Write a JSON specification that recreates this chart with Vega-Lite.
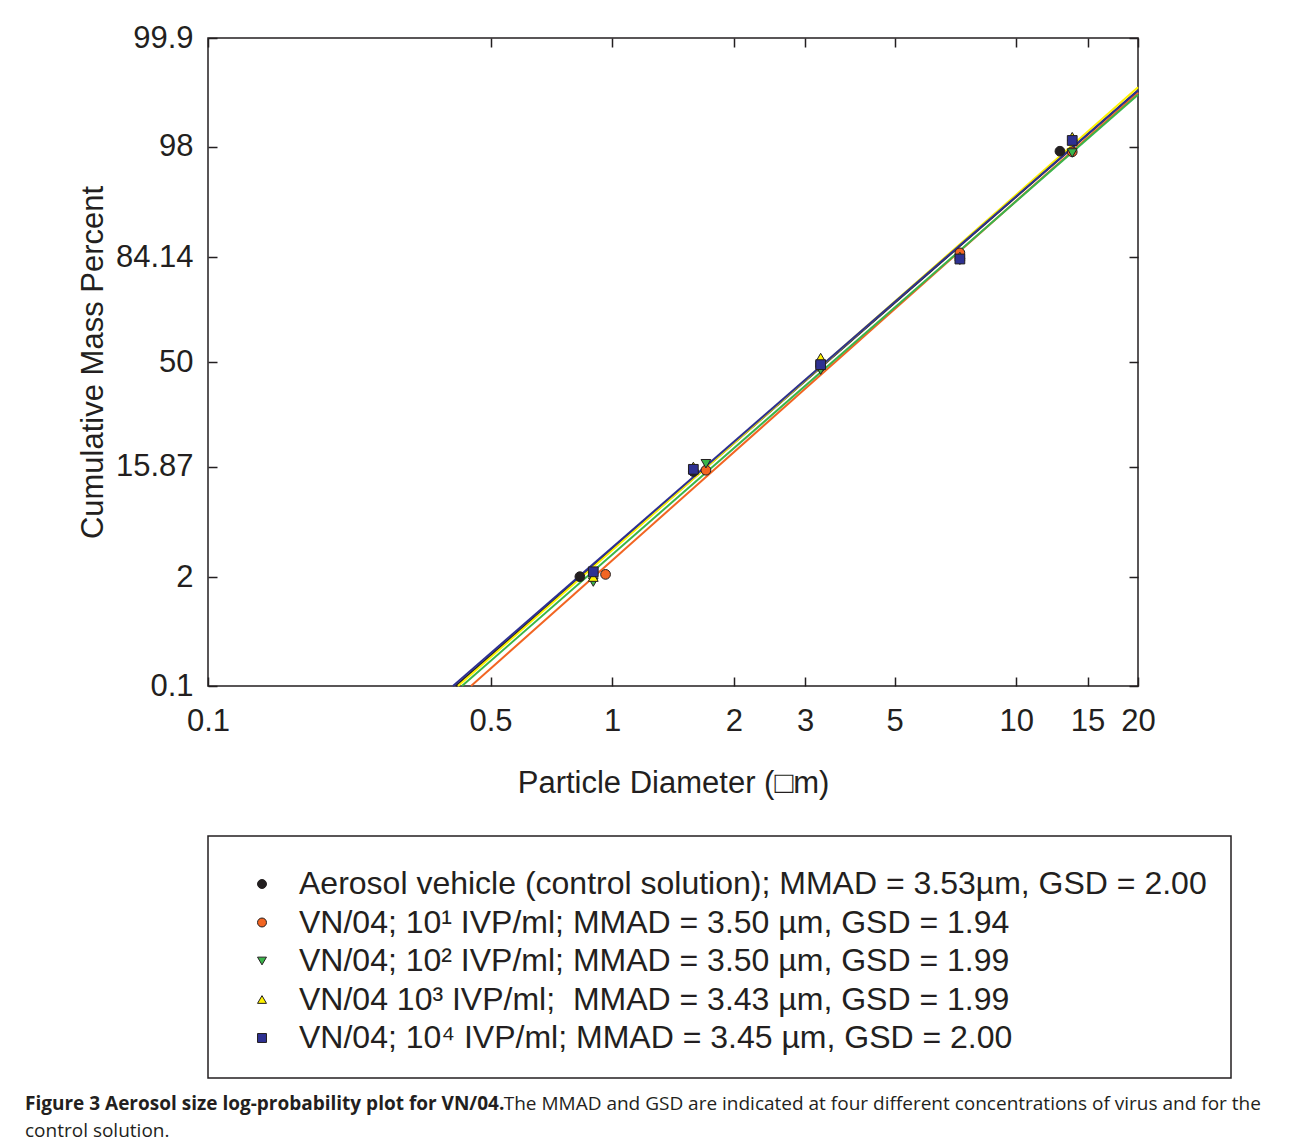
{
  "$schema": "https://vega.github.io/schema/vega-lite/v6.json",
  "width": 930,
  "height": 648,
  "autosize": {"type": "none"},
  "padding": {"left": 208, "top": 38, "right": 155, "bottom": 459},
  "background": "white",
  "title": {
    "text": "Figure 3 Aerosol size log-probability plot for VN/04.",
    "subtitle": [
      "\u200b\u00a0\u00a0\u00a0\u00a0\u00a0\u00a0\u00a0\u00a0\u00a0\u00a0\u00a0\u00a0\u00a0\u00a0\u00a0\u00a0\u00a0\u00a0\u00a0\u00a0\u00a0\u00a0\u00a0\u00a0\u00a0\u00a0\u00a0\u00a0\u00a0\u00a0\u00a0\u00a0\u00a0\u00a0\u00a0\u00a0\u00a0\u00a0\u00a0\u00a0\u00a0\u00a0\u00a0\u00a0\u00a0\u00a0\u00a0\u00a0\u00a0\u00a0\u00a0\u00a0\u00a0\u00a0\u00a0\u00a0\u00a0\u00a0\u00a0\u00a0\u00a0\u00a0\u00a0\u00a0\u00a0\u00a0\u00a0\u00a0\u00a0\u00a0\u00a0\u00a0\u00a0\u00a0\u00a0\u00a0\u00a0\u00a0\u00a0\u00a0\u00a0\u00a0\u00a0\u00a0\u00a0\u00a0\u00a0\u00a0\u00a0\u00a0\u00a0\u00a0\u00a0\u00a0\u00a0\u00a0\u00a0The MMAD and GSD are indicated at four different concentrations of virus and for the",
      "control solution."
    ],
    "orient": "bottom",
    "anchor": "start",
    "frame": "group",
    "dx": -183,
    "offset": 16,
    "font": "Open Sans",
    "fontSize": 19,
    "fontWeight": "bold",
    "color": "#231f20",
    "subtitleFont": "Open Sans",
    "subtitleFontSize": 19,
    "subtitleColor": "#231f20",
    "subtitleLineHeight": 27,
    "subtitlePadding": -19
  },
  "config": {
    "font": "Liberation Sans",
    "view": {"stroke": "#231f20", "strokeWidth": 1.5},
    "axis": {
      "domain": false,
      "grid": false,
      "tickColor": "#231f20",
      "tickWidth": 1.5,
      "tickSize": -9,
      "labelFont": "Liberation Sans",
      "labelFontSize": 31,
      "labelColor": "#231f20",
      "titleFont": "Liberation Sans",
      "titleFontSize": 31,
      "titleFontWeight": "normal",
      "titleColor": "#231f20",
      "labelFlush": false,
      "labelOverlap": false
    },
    "legend": {"strokeWidth": 1.5}
  },
  "data": {
    "values": [
      {"kind": "line", "series": "Aerosol vehicle (control solution); MMAD = 3.53µm, GSD = 2.00", "d": 0.410, "p": 0.1},
      {"kind": "line", "series": "Aerosol vehicle (control solution); MMAD = 3.53µm, GSD = 2.00", "d": 20, "p": 99.52},
      {"kind": "line", "series": "VN/04; 10¹ IVP/ml; MMAD = 3.50 µm, GSD = 1.94", "d": 0.4474, "p": 0.1},
      {"kind": "line", "series": "VN/04; 10¹ IVP/ml; MMAD = 3.50 µm, GSD = 1.94", "d": 20, "p": 99.49},
      {"kind": "line", "series": "VN/04; 10² IVP/ml; MMAD = 3.50 µm, GSD = 1.99", "d": 0.4249, "p": 0.1},
      {"kind": "line", "series": "VN/04; 10² IVP/ml; MMAD = 3.50 µm, GSD = 1.99", "d": 20, "p": 99.46},
      {"kind": "line", "series": "VN/04 10³ IVP/ml;\u00a0 MMAD = 3.43 µm, GSD = 1.99", "d": 0.4155, "p": 0.1},
      {"kind": "line", "series": "VN/04 10³ IVP/ml;\u00a0 MMAD = 3.43 µm, GSD = 1.99", "d": 20, "p": 99.56},
      {"kind": "line", "series": "VN/04; 10⁴ IVP/ml; MMAD = 3.45 µm, GSD = 2.00", "d": 0.4037, "p": 0.1},
      {"kind": "line", "series": "VN/04; 10⁴ IVP/ml; MMAD = 3.45 µm, GSD = 2.00", "d": 20, "p": 99.52},

      {"kind": "point", "series": "Aerosol vehicle (control solution); MMAD = 3.53µm, GSD = 2.00", "d": 0.832, "p": 2.03},
      {"kind": "point", "series": "Aerosol vehicle (control solution); MMAD = 3.53µm, GSD = 2.00", "d": 1.588, "p": 14.8},
      {"kind": "point", "series": "Aerosol vehicle (control solution); MMAD = 3.53µm, GSD = 2.00", "d": 3.28, "p": 49.4},
      {"kind": "point", "series": "Aerosol vehicle (control solution); MMAD = 3.53µm, GSD = 2.00", "d": 7.25, "p": 83.8},
      {"kind": "point", "series": "Aerosol vehicle (control solution); MMAD = 3.53µm, GSD = 2.00", "d": 12.82, "p": 97.78},

      {"kind": "point", "series": "VN/04; 10¹ IVP/ml; MMAD = 3.50 µm, GSD = 1.94", "d": 0.963, "p": 2.14},
      {"kind": "point", "series": "VN/04; 10¹ IVP/ml; MMAD = 3.50 µm, GSD = 1.94", "d": 1.706, "p": 15.1},
      {"kind": "point", "series": "VN/04; 10¹ IVP/ml; MMAD = 3.50 µm, GSD = 1.94", "d": 3.28, "p": 48.3},
      {"kind": "point", "series": "VN/04; 10¹ IVP/ml; MMAD = 3.50 µm, GSD = 1.94", "d": 7.25, "p": 85.1},
      {"kind": "point", "series": "VN/04; 10¹ IVP/ml; MMAD = 3.50 µm, GSD = 1.94", "d": 13.75, "p": 97.75},

      {"kind": "point", "series": "VN/04; 10² IVP/ml; MMAD = 3.50 µm, GSD = 1.99", "d": 0.898, "p": 1.79},
      {"kind": "point", "series": "VN/04; 10² IVP/ml; MMAD = 3.50 µm, GSD = 1.99", "d": 1.706, "p": 16.6},
      {"kind": "point", "series": "VN/04; 10² IVP/ml; MMAD = 3.50 µm, GSD = 1.99", "d": 3.28, "p": 46.9},
      {"kind": "point", "series": "VN/04; 10² IVP/ml; MMAD = 3.50 µm, GSD = 1.99", "d": 7.25, "p": 83.4},
      {"kind": "point", "series": "VN/04; 10² IVP/ml; MMAD = 3.50 µm, GSD = 1.99", "d": 13.75, "p": 97.69},

      {"kind": "point", "series": "VN/04 10³ IVP/ml;\u00a0 MMAD = 3.43 µm, GSD = 1.99", "d": 0.898, "p": 2.01},
      {"kind": "point", "series": "VN/04 10³ IVP/ml;\u00a0 MMAD = 3.43 µm, GSD = 1.99", "d": 1.588, "p": 15.96},
      {"kind": "point", "series": "VN/04 10³ IVP/ml;\u00a0 MMAD = 3.43 µm, GSD = 1.99", "d": 3.28, "p": 51.7},
      {"kind": "point", "series": "VN/04 10³ IVP/ml;\u00a0 MMAD = 3.43 µm, GSD = 1.99", "d": 7.25, "p": 84.3},
      {"kind": "point", "series": "VN/04 10³ IVP/ml;\u00a0 MMAD = 3.43 µm, GSD = 1.99", "d": 13.75, "p": 98.42},

      {"kind": "point", "series": "VN/04; 10⁴ IVP/ml; MMAD = 3.45 µm, GSD = 2.00", "d": 0.898, "p": 2.27},
      {"kind": "point", "series": "VN/04; 10⁴ IVP/ml; MMAD = 3.45 µm, GSD = 2.00", "d": 1.588, "p": 15.3},
      {"kind": "point", "series": "VN/04; 10⁴ IVP/ml; MMAD = 3.45 µm, GSD = 2.00", "d": 3.28, "p": 49.0},
      {"kind": "point", "series": "VN/04; 10⁴ IVP/ml; MMAD = 3.45 µm, GSD = 2.00", "d": 7.25, "p": 83.7},
      {"kind": "point", "series": "VN/04; 10⁴ IVP/ml; MMAD = 3.45 µm, GSD = 2.00", "d": 13.75, "p": 98.27}
    ]
  },
  "transform": [{"calculate": "quantileNormal(datum.p / 100)", "as": "z"}],
  "layer": [
    {
      "transform": [{"filter": "datum.kind === 'line'"}],
      "mark": {"type": "line", "strokeWidth": 2},
      "encoding": {
        "x": {
          "field": "d", "type": "quantitative",
          "scale": {"type": "log", "domain": [0.1, 20], "nice": false},
          "axis": {
            "orient": "bottom",
            "values": [0.1, 0.5, 1, 2, 3, 5, 10, 15, 20],
            "format": "~g",
            "labelPadding": 29,
            "title": "Particle Diameter (□m)",
            "titlePadding": 32
          }
        },
        "y": {
          "field": "z", "type": "quantitative",
          "scale": {"domain": [-3.090232, 3.090232], "nice": false, "zero": false},
          "axis": {
            "orient": "left",
            "values": [-3.090232, -2.053749, -0.99981, 0, 1.000227, 2.053749, 3.090232],
            "labelExpr": "'' + round(cumulativeNormal(datum.value) * 10000) / 100",
            "labelPadding": 24,
            "title": "Cumulative Mass Percent",
            "titlePadding": 6
          }
        },
        "stroke": {
          "field": "series", "type": "nominal",
          "scale": {
            "domain": [
              "VN/04; 10¹ IVP/ml; MMAD = 3.50 µm, GSD = 1.94",
              "VN/04; 10² IVP/ml; MMAD = 3.50 µm, GSD = 1.99",
              "Aerosol vehicle (control solution); MMAD = 3.53µm, GSD = 2.00",
              "VN/04 10³ IVP/ml;\u00a0 MMAD = 3.43 µm, GSD = 1.99",
              "VN/04; 10⁴ IVP/ml; MMAD = 3.45 µm, GSD = 2.00"
            ],
            "range": ["#f26522", "#39b54a", "#231f20", "#fff200", "#2e3192"]
          },
          "legend": null
        }
      }
    },
    {
      "transform": [{"filter": "datum.kind === 'point'"}],
      "mark": {"type": "point", "filled": true, "opacity": 1, "size": 95, "stroke": "#231f20", "strokeWidth": 1},
      "encoding": {
        "x": {
          "field": "d", "type": "quantitative",
          "scale": {"type": "log", "domain": [0.1, 20], "nice": false},
          "axis": {"orient": "top", "values": [0.1, 0.5, 1, 2, 3, 5, 10, 15, 20], "labels": false, "title": null}
        },
        "y": {
          "field": "z", "type": "quantitative",
          "scale": {"domain": [-3.090232, 3.090232], "nice": false, "zero": false},
          "axis": {"orient": "right", "values": [-3.090232, -2.053749, -0.99981, 0, 1.000227, 2.053749, 3.090232], "labels": false, "title": null}
        },
        "color": {
          "field": "series", "type": "nominal",
          "scale": {
            "domain": [
              "Aerosol vehicle (control solution); MMAD = 3.53µm, GSD = 2.00",
              "VN/04; 10¹ IVP/ml; MMAD = 3.50 µm, GSD = 1.94",
              "VN/04; 10² IVP/ml; MMAD = 3.50 µm, GSD = 1.99",
              "VN/04 10³ IVP/ml;\u00a0 MMAD = 3.43 µm, GSD = 1.99",
              "VN/04; 10⁴ IVP/ml; MMAD = 3.45 µm, GSD = 2.00"
            ],
            "range": ["#231f20", "#f26522", "#39b54a", "#fff200", "#2e3192"]
          },
          "legend": {
            "orient": "bottom", "direction": "vertical", "offset": 38,
            "title": "\u200b", "titleFontSize": 8, "titlePadding": 0,
            "padding": 24, "strokeColor": "#231f20",
            "labelFont": "Liberation Sans", "labelFontSize": 32, "labelColor": "#231f20", "labelLimit": 2000,
            "symbolSize": 80, "symbolStrokeColor": "#231f20", "symbolStrokeWidth": 1,
            "rowPadding": 6.5, "symbolOffset": 14, "labelOffset": 21
          }
        },
        "shape": {
          "field": "series", "type": "nominal",
          "scale": {
            "domain": [
              "Aerosol vehicle (control solution); MMAD = 3.53µm, GSD = 2.00",
              "VN/04; 10¹ IVP/ml; MMAD = 3.50 µm, GSD = 1.94",
              "VN/04; 10² IVP/ml; MMAD = 3.50 µm, GSD = 1.99",
              "VN/04 10³ IVP/ml;\u00a0 MMAD = 3.43 µm, GSD = 1.99",
              "VN/04; 10⁴ IVP/ml; MMAD = 3.45 µm, GSD = 2.00"
            ],
            "range": ["circle", "circle", "triangle-down", "triangle-up", "square"]
          },
          "legend": {
            "orient": "bottom", "direction": "vertical", "offset": 38,
            "title": "\u200b", "titleFontSize": 8, "titlePadding": 0,
            "padding": 24, "strokeColor": "#231f20",
            "labelFont": "Liberation Sans", "labelFontSize": 32, "labelColor": "#231f20", "labelLimit": 2000,
            "symbolSize": 80, "symbolStrokeColor": "#231f20", "symbolStrokeWidth": 1,
            "rowPadding": 6.5, "symbolOffset": 14, "labelOffset": 21
          }
        }
      }
    }
  ],
  "resolve": {"axis": {"x": "independent", "y": "independent"}}
}
